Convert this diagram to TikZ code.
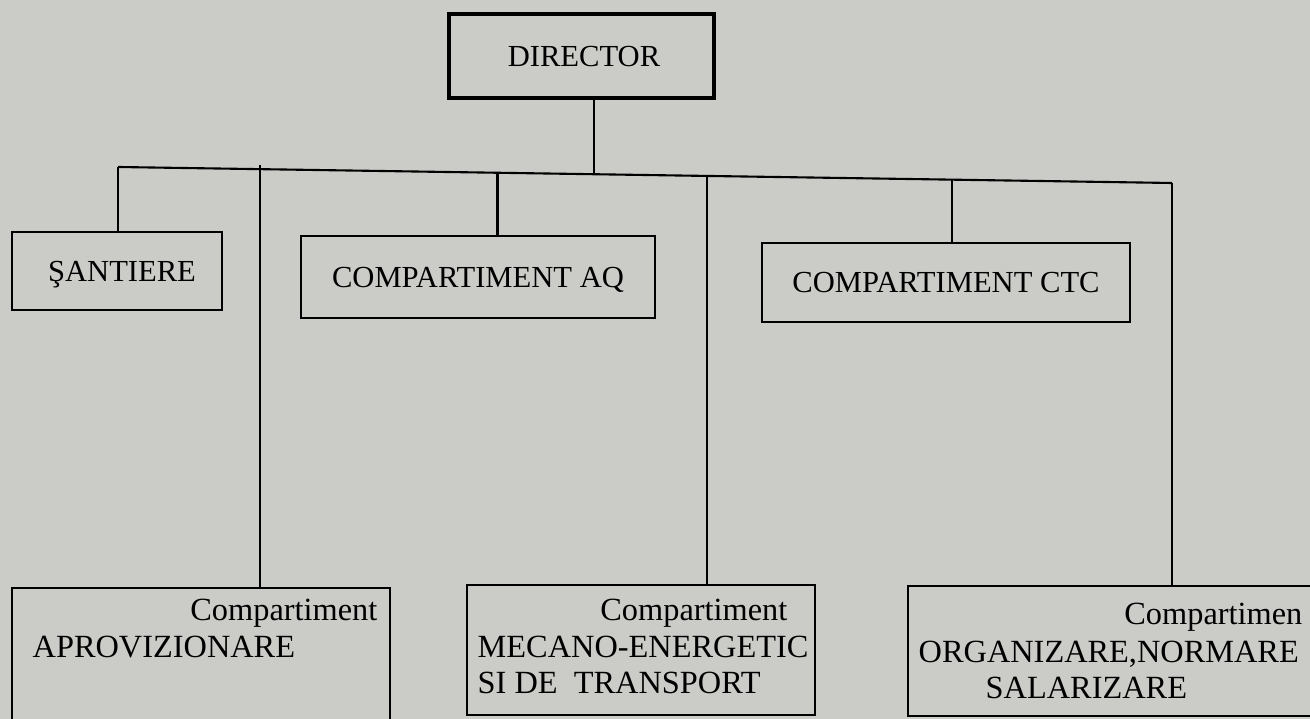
\documentclass[tikz,border=0pt]{standalone}
\usepackage{fontspec}
\setmainfont{Liberation Serif}
\usetikzlibrary{calc}
\definecolor{paper}{RGB}{203,203,200}
\begin{document}
\begin{tikzpicture}
      [%%%%%%%%%%%%%%%%%%%%%%%%%%%%%%
          x=0.01cm, y=-0.01cm,
          box/.style={rectangle,draw=black,line width=0.6pt,inner sep=0pt},
          bigbox/.style={box,line width=1.2pt},
          upper/.style={font=\fontsize{8.7}{10}\selectfont,text depth=0pt},
          lower/.style={font=\fontsize{9.2}{11}\selectfont,inner sep=0pt},
          link/.style={draw=black,line width=0.6pt}
      ]%%%%%%%%%%%%%%%%%%%%%%%%%%%%%%

  \fill[paper] (0,0) rectangle (1310,719);
  \clip (0,0) rectangle (1310,719);

  % top level
  \node[bigbox,upper,minimum width=2.65cm,minimum height=0.84cm] (dir) at (581.5,56) {\hspace{0.05cm}DIRECTOR};

  % second row
  \node[box,upper,minimum width=2.1cm,minimum height=0.78cm] (sant) at (117,271) {\hspace{0.1cm}ŞANTIERE};
  \node[box,upper,minimum width=3.54cm,minimum height=0.82cm] (aq) at (478,277) {COMPARTIMENT AQ};
  \node[box,upper,minimum width=3.68cm,minimum height=0.79cm] (ctc) at (946,282.5) {COMPARTIMENT CTC};

  % third row
  \node[box,minimum width=3.78cm,minimum height=1.72cm] (apr) at (201,674) {};
  \node[box,minimum width=3.48cm,minimum height=1.30cm] (mec) at (641,650) {};
  \node[box,minimum width=4.52cm,minimum height=1.30cm] (org) at (1134,651) {};

  \node[lower,anchor=base east] (aprA) at (378,620) {Compartiment};
  \node[lower,anchor=base west] (aprB) at (32,657) {APROVIZIONARE};

  \node[lower,anchor=base east] (mecA) at (788,620) {Compartiment};
  \node[lower,anchor=base west] (mecB) at (477,657) {MECANO-ENERGETIC};
  \node[lower,anchor=base west] (mecC) at (477,693) {SI DE\ \ TRANSPORT};

  \node[lower,anchor=base east] (orgA) at (1303,624) {Compartimen};
  \node[lower,anchor=base west] (orgB) at (918,662) {ORGANIZARE,NORMARE};
  \node[lower,anchor=base west] (orgC) at (985,698) {SALARIZARE};

  % bus
  \coordinate (busL) at (118,167);
  \coordinate (busR) at (1172,183);
  \coordinate (tapA) at ($(busL)!0.135!(busR)$);
  \coordinate (tapQ) at ($(busL)!0.360!(busR)$);
  \coordinate (tapD) at ($(busL)!0.452!(busR)$);
  \coordinate (tapM) at ($(busL)!0.559!(busR)$);
  \coordinate (tapC) at ($(busL)!0.791!(busR)$);

  \draw[link] (busL) -- (busR);
  \draw[link] (dir.south -| tapD) -- (tapD);
  \draw[link] (busL) -- (busL |- sant.north);
  \draw[link] (tapQ) -- (tapQ |- aq.north);
  \draw[link] (tapC) -- (tapC |- ctc.north);
  \draw[link] ($(tapA)+(0,-4)$) -- (tapA |- apr.north);
  \draw[link] (tapM) -- (tapM |- mec.north);
  \draw[link] (busR) -- (busR |- org.north);

\end{tikzpicture}
\end{document}
